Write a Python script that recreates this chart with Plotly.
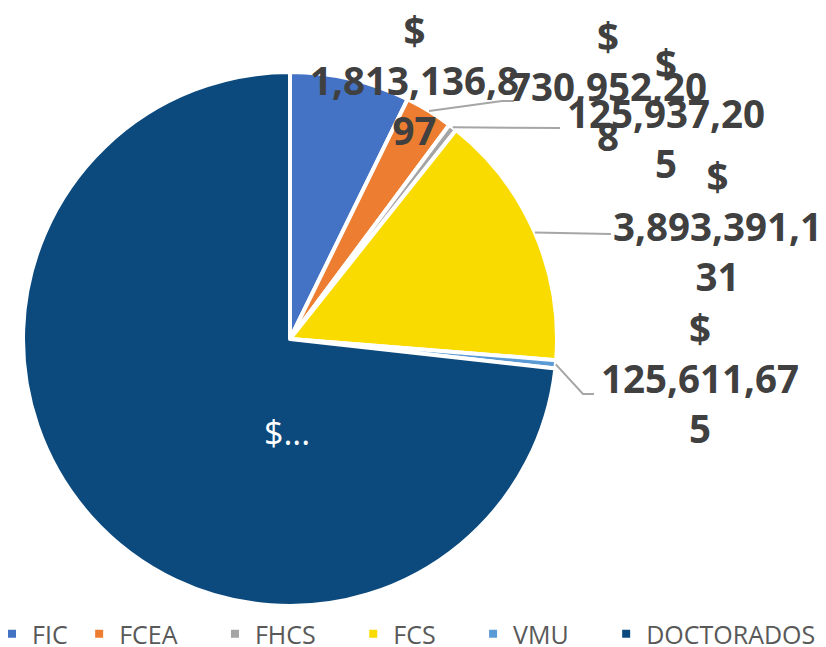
import math
import plotly.graph_objects as go

# ---------------- data ----------------
categories = ["FIC", "FCEA", "FHCS", "FCS", "VMU", "DOCTORADOS"]
values = [1813136897, 730952208, 125937205, 3893391131, 125611675, 18300000000]
colors = ["#4472C4", "#ED7D31", "#A5A5A5", "#FADB00", "#5B9BD5", "#0C4A7E"]
truncated_label = "$..."

# ---------------- layout helpers ----------------
W, H = 826, 647
OFF = 8                            # page body margin in the browser
MB = 40                            # bottom margin (legend lives there)
PH = H - MB
CX, CY, R = 290, 339, 267          # pie centre / radius in screen px
legend_pad = [1, 5, 5, 5, 5, 0]    # non-breaking spaces after each legend entry


def px(x):
    return (x - OFF) / W


def py(y):
    return 1 - (y - OFF) / PH


def wrap_money(v, limit=9.4):
    s = f"{v:,}"
    lines, cur, w = [], "", 0.0
    for ch in s:
        cw = 0.45 if ch == "," else 1.0
        if w + cw > limit:
            lines.append(cur)
            cur, w = "", 0.0
        cur += ch
        w += cw
    lines.append(cur)
    return "<br>".join(["$"] + lines)


legend_names = [c + "\u00a0" * n for c, n in zip(categories, legend_pad)]

fig = go.Figure(go.Pie(
    labels=legend_names,
    values=values,
    marker=dict(colors=colors, line=dict(color="white", width=4)),
    sort=False,
    direction="clockwise",
    rotation=0,
    textinfo="none",
    hoverinfo="label+value",
    domain=dict(x=[px(CX - R), px(CX + R)], y=[py(CY + R), py(CY - R)]),
))

# outside label placement (screen px) and leader-line geometry
label_pos = {"FIC": (414, 80), "FCEA": (608, 86), "FHCS": (666, 113),
             "FCS": (717, 226), "VMU": (700, 378)}
leader_ends = {"FCEA": [(502, 101), (514, 101)], "FHCS": [(560, 128)],
               "FCS": [(611, 234)], "VMU": [(583, 394), (594, 394)]}

total = sum(values)
cum = 0
annotations = []
shapes = []
for cat, v in zip(categories, values):
    mid = (cum + v / 2) / total * 2 * math.pi
    cum += v
    if cat == "DOCTORADOS":
        annotations.append(dict(x=px(287), y=py(432), xref="paper", yref="paper",
                                text=truncated_label, showarrow=False,
                                font=dict(size=34, color="white", family="Open Sans"),
                                xanchor="center", yanchor="middle"))
        continue
    lx, ly = label_pos[cat]
    annotations.append(dict(x=px(lx), y=py(ly), xref="paper", yref="paper",
                            text=wrap_money(v), showarrow=False,
                            font=dict(size=38.5, color="#404040", family="Open Sans", weight="bold"),
                            xanchor="center", yanchor="middle", align="center"))
    if cat in leader_ends:
        sx = CX + R * math.sin(mid)
        sy = CY - R * math.cos(mid)
        pts = [(sx, sy)] + leader_ends[cat]
        path = "M " + " L ".join(f"{px(a)},{py(b)}" for a, b in pts)
        shapes.append(dict(type="path", path=path, xref="paper", yref="paper",
                           line=dict(color="#A6A6A6", width=2)))

fig.update_layout(
    width=W, height=H,
    margin=dict(l=0, r=0, t=0, b=MB, autoexpand=False),
    paper_bgcolor="white",
    plot_bgcolor="white",
    showlegend=True,
    legend=dict(orientation="h", xref="paper", yref="paper",
                x=px(-8), xanchor="left", y=py(634), yanchor="middle",
                font=dict(size=25, color="#595959", family="Open Sans"),
                traceorder="normal"),
    annotations=annotations,
    shapes=shapes,
)

fig.write_html("out.html")
